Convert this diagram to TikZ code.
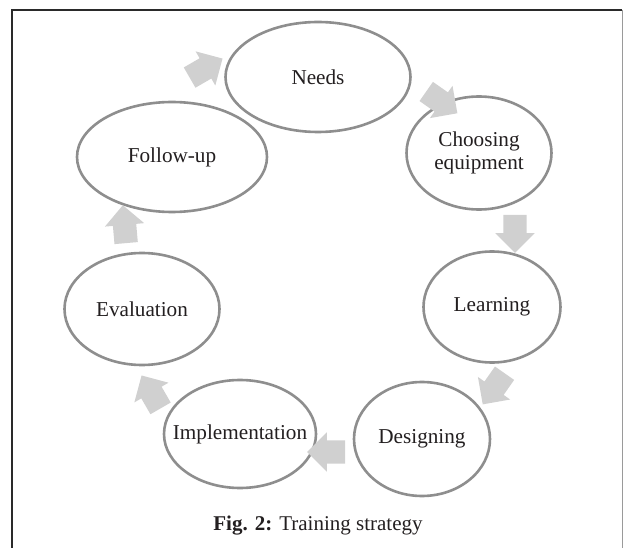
\documentclass[tikz,border=0pt]{standalone}
\usepackage{fontspec}
\setmainfont{Liberation Serif}
\usepackage{xcolor}
\usetikzlibrary{shapes.geometric, shapes.arrows}

\definecolor{rimgray}{HTML}{8E8E8E}
\definecolor{arrowgray}{HTML}{D0D0D0}
\definecolor{inkblack}{HTML}{231F20}
\definecolor{framedark}{HTML}{2A2A2A}
\definecolor{framegray}{HTML}{9A9A9A}

\begin{document}
\begin{tikzpicture}[
    x=1pt, y=-1pt,
    stage/.style={ellipse, draw=rimgray, fill=white, line width=2.6pt, inner sep=0pt, align=center, text=inkblack, font=\fontsize{21.2}{23}\selectfont},
    cyclearrow/.style={single arrow, fill=arrowgray, draw=none, inner xsep=0pt, inner ysep=11.5pt, minimum height=38pt, single arrow head extend=8pt},
    caption/.style={text=inkblack, font=\fontsize{21}{23}\selectfont, anchor=base}
]
\useasboundingbox (0,0) rectangle (624,548);

% =====================
% Frame
% =====================
\draw[framedark, line width=2pt] (12,548) -- (12,10) -- (622,10);
\draw[framegray, line width=0.8pt] (622,10) -- (622,548);

% =====================
% Stages of the cycle
% =====================
\node[stage, minimum width=185pt, minimum height=110pt] (needs) at (318,77) {Needs};
\node[stage, minimum width=145pt, minimum height=113pt] (choosing) at (479,153) {Choosing\\equipment};
\node[stage, minimum width=137pt, minimum height=111pt] (learning) at (492,307) {Learning};
\node[stage, minimum width=136pt, minimum height=114pt] (designing) at (422,439) {Designing};
\node[stage, inner xsep=-15pt, minimum width=152pt, minimum height=108pt] (implementation) at (240,434) {Implementation};
\node[stage, minimum width=155pt, minimum height=112pt] (evaluation) at (142,309) {Evaluation};
\node[stage, minimum width=190pt, minimum height=110pt] (followup) at (172,157) {Follow-up};

% =====================
% Block arrows between stages
% =====================
\node[cyclearrow, rotate=-35] (needs-choosing) at (437,99) {};
\node[cyclearrow, rotate=-90] (choosing-learning) at (515,228) {};
\node[cyclearrow, rotate=-125] (learning-designing) at (497,384) {};
\node[cyclearrow, rotate=180] (designing-implementation) at (332,452) {};
\node[cyclearrow, rotate=120] (implementation-evaluation) at (154,397) {};
\node[cyclearrow, rotate=95] (evaluation-followup) at (125,230) {};
\node[cyclearrow, rotate=30] (followup-needs) at (201,71) {};

% =====================
% Caption
% =====================
\node[caption] (figcaption) at (318,530) {\textbf{Fig. 2:} Training strategy};

\end{tikzpicture}
\end{document}
